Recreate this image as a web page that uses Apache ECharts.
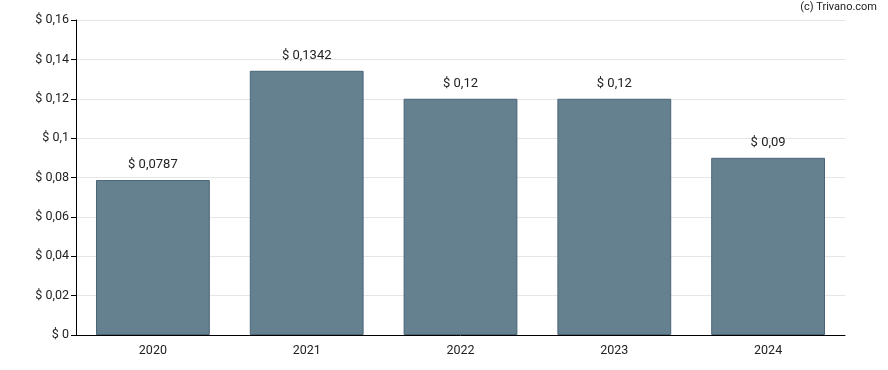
<!DOCTYPE html>
<html><head><meta charset="utf-8">
<script src="https://cdn.jsdelivr.net/npm/echarts@6/dist/echarts.min.js"></script>
<style>html,body{margin:0;padding:0;background:#fff}#c{width:888px;height:370px}</style>
</head><body><div id="c"></div>
<script>
const categories = ['2020','2021','2022','2023','2024'];
const values = [0.0787, 0.1342, 0.12, 0.12, 0.09];
const valueLabels = ['$ 0,0787','$ 0,1342','$ 0,12','$ 0,12','$ 0,09'];
const chart = echarts.init(document.getElementById('c'));
const fmt = v => '$ ' + String(+v.toFixed(4)).replace('.', ',');
chart.setOption({
  animation: false,
  textStyle: {fontFamily: 'Roboto'},
  graphic: [{type:'text', right: 11, top: 2, style:{text:'(c) Trivano.com', font:'11px Roboto', fill:'#222'}}],
  grid: {left: 76, right: 43, top: 20, bottom: 35},
  xAxis: {type:'category', data: categories,
    axisLine:{lineStyle:{color:'#000'}},
    axisTick:{alignWithLabel:true, length:5, lineStyle:{color:'#000'}},
    axisLabel:{color:'#222', fontSize:12.5, margin:9}},
  yAxis: {type:'value', min:0, max:0.16, interval:0.02,
    axisLine:{show:true, lineStyle:{color:'#000'}},
    axisTick:{show:true, length:5, lineStyle:{color:'#000'}},
    splitLine:{lineStyle:{color:'#e6e6e6'}},
    axisLabel:{color:'#222', fontSize:12.5, margin:7, formatter: v => v === 0 ? '$ 0' : fmt(v)}},
  series: [{type:'bar', data: values, barWidth:'74%',
    itemStyle:{color:'#65818f', borderColor:'#4a6578', borderWidth:1},
    label:{show:true, position:'top', distance:9, color:'#222', fontSize:13,
      formatter: p => valueLabels[p.dataIndex]}}]
});
</script></body></html>
